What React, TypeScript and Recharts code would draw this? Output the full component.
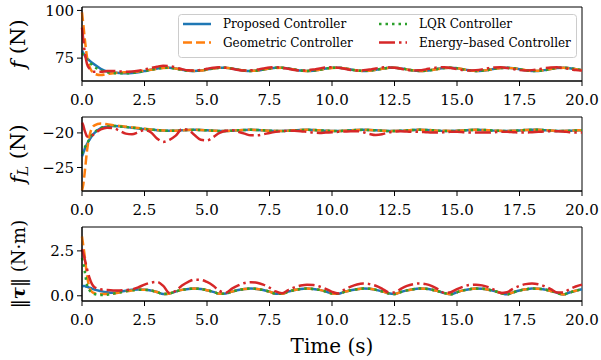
import React from 'react';
import { LineChart, Line, XAxis, YAxis, ReferenceArea, Legend } from 'recharts';

const FONT = '"DejaVu Serif", serif';

// time samples (s): dense at the start, then every 0.25 s
const TIME = [0, 0.05, 0.1, 0.15, 0.2, 0.3, 0.4,
  0.5, 0.75, 1, 1.25, 1.5, 1.75, 2, 2.25, 2.5, 2.75,
  3, 3.25, 3.5, 3.75, 4, 4.25, 4.5, 4.75, 5, 5.25,
  5.5, 5.75, 6, 6.25, 6.5, 6.75, 7, 7.25, 7.5, 7.75,
  8, 8.25, 8.5, 8.75, 9, 9.25, 9.5, 9.75, 10, 10.25,
  10.5, 10.75, 11, 11.25, 11.5, 11.75, 12, 12.25, 12.5, 12.75,
  13, 13.25, 13.5, 13.75, 14, 14.25, 14.5, 14.75, 15, 15.25,
  15.5, 15.75, 16, 16.25, 16.5, 16.75, 17, 17.25, 17.5, 17.75,
  18, 18.25, 18.5, 18.75, 19, 19.25, 19.5, 19.75, 20];

// thrust f (N)
const F_PROPOSED = [79, 77.6, 76.5, 75.6, 74.9, 73.7, 72.6,
  71.6, 69.4, 68.0, 67.5, 67.2, 67.1, 67.2, 67.6, 68.2, 68.9,
  69.5, 69.9, 69.9, 69.5, 68.9, 68.4, 68.3, 68.5, 69.0, 69.6,
  69.9, 69.9, 69.5, 68.9, 68.4, 68.3, 68.5, 69.0, 69.5, 69.9,
  69.9, 69.5, 69.0, 68.5, 68.3, 68.4, 68.9, 69.5, 69.9, 69.9,
  69.6, 69.0, 68.5, 68.3, 68.4, 68.9, 69.4, 69.9, 69.9, 69.6,
  69.1, 68.5, 68.3, 68.4, 68.8, 69.4, 69.8, 69.9, 69.7, 69.1,
  68.6, 68.3, 68.4, 68.8, 69.4, 69.8, 69.9, 69.7, 69.2, 68.6,
  68.3, 68.3, 68.7, 69.3, 69.8, 70.0, 69.7, 69.2, 68.7];
const F_GEOMETRIC = [99, 93, 86.5, 80.5, 75.5, 70.5, 68.0,
  66.8, 66.1, 66.6, 67.1, 67.4, 67.6, 67.8, 68.0, 68.4, 68.9,
  69.4, 69.8, 69.9, 69.5, 68.9, 68.5, 68.3, 68.5, 69.0, 69.5,
  69.9, 69.9, 69.5, 69.0, 68.5, 68.3, 68.5, 69.0, 69.5, 69.8,
  69.9, 69.5, 69.0, 68.5, 68.3, 68.4, 68.9, 69.4, 69.8, 69.9,
  69.6, 69.1, 68.5, 68.3, 68.4, 68.9, 69.4, 69.8, 69.9, 69.6,
  69.1, 68.6, 68.3, 68.4, 68.8, 69.3, 69.8, 69.9, 69.7, 69.2,
  68.6, 68.3, 68.4, 68.8, 69.3, 69.8, 69.9, 69.7, 69.2, 68.7,
  68.3, 68.4, 68.7, 69.3, 69.7, 69.9, 69.7, 69.2, 68.7];
const F_LQR = [77.6, 76.8, 75.9, 75.0, 74.2, 72.8, 71.5,
  70.4, 68.6, 67.6, 67.2, 67.0, 67.0, 67.2, 67.6, 68.2, 68.9,
  69.5, 69.9, 69.9, 69.5, 68.9, 68.4, 68.3, 68.5, 69.0, 69.6,
  69.9, 69.9, 69.5, 68.9, 68.4, 68.3, 68.5, 69.0, 69.5, 69.9,
  69.9, 69.5, 69.0, 68.5, 68.3, 68.4, 68.9, 69.5, 69.9, 69.9,
  69.6, 69.0, 68.5, 68.3, 68.4, 68.9, 69.4, 69.9, 69.9, 69.6,
  69.1, 68.5, 68.3, 68.4, 68.8, 69.4, 69.8, 69.9, 69.7, 69.1,
  68.6, 68.3, 68.4, 68.8, 69.4, 69.8, 69.9, 69.7, 69.2, 68.6,
  68.3, 68.3, 68.7, 69.3, 69.8, 70.0, 69.7, 69.2, 68.7];
const F_ENERGY = [91, 85, 79, 75, 72, 69.5, 68.3,
  67.8, 67.8, 68.2, 68.3, 68.0, 67.9, 68.0, 68.4, 69.0, 69.8,
  70.5, 71.0, 70.8, 70.1, 69.2, 68.6, 68.5, 68.8, 69.4, 70.0,
  70.2, 69.9, 69.4, 68.8, 68.5, 68.6, 69.0, 69.6, 70.1, 70.2,
  69.9, 69.4, 68.8, 68.5, 68.6, 69.0, 69.6, 70.1, 70.2, 69.9,
  69.4, 68.8, 68.5, 68.6, 69.0, 69.6, 70.1, 70.2, 69.9, 69.4,
  68.8, 68.5, 68.6, 69.1, 69.7, 70.1, 70.2, 69.8, 69.3, 68.7,
  68.5, 68.7, 69.1, 69.7, 70.1, 70.2, 69.8, 69.3, 68.7, 68.5,
  68.7, 69.1, 69.7, 70.1, 70.2, 69.8, 69.3, 68.7, 68.5];

// load force f_L (N)
const FL_PROPOSED = [-23.4, -22.9, -22.4, -22.0, -21.6, -21.0, -20.4,
  -20.0, -19.3, -19.1, -19.0, -19.05, -19.15, -19.25, -19.35, -19.45, -19.5,
  -19.6, -19.65, -19.7, -19.68, -19.62, -19.57, -19.56, -19.58, -19.63, -19.68,
  -19.72, -19.72, -19.68, -19.62, -19.57, -19.56, -19.58, -19.63, -19.68, -19.72,
  -19.72, -19.68, -19.63, -19.58, -19.56, -19.57, -19.62, -19.68, -19.72, -19.72,
  -19.69, -19.63, -19.58, -19.56, -19.57, -19.62, -19.67, -19.72, -19.72, -19.69,
  -19.64, -19.58, -19.56, -19.57, -19.61, -19.67, -19.71, -19.72, -19.7, -19.64,
  -19.59, -19.56, -19.57, -19.61, -19.67, -19.71, -19.72, -19.7, -19.65, -19.59,
  -19.56, -19.56, -19.6, -19.66, -19.71, -19.72, -19.7, -19.65, -19.6];
const FL_GEOMETRIC = [-28.3, -27.5, -26.0, -24.3, -22.6, -20.4, -19.3,
  -18.9, -18.65, -18.75, -18.9, -19.0, -19.1, -19.2, -19.3, -19.4, -19.5,
  -19.58, -19.64, -19.69, -19.68, -19.62, -19.57, -19.55, -19.58, -19.63, -19.68,
  -19.71, -19.72, -19.68, -19.62, -19.57, -19.55, -19.58, -19.63, -19.68, -19.71,
  -19.72, -19.68, -19.63, -19.58, -19.55, -19.57, -19.62, -19.67, -19.71, -19.72,
  -19.69, -19.63, -19.58, -19.55, -19.57, -19.62, -19.67, -19.71, -19.72, -19.69,
  -19.64, -19.58, -19.55, -19.57, -19.61, -19.67, -19.7, -19.72, -19.7, -19.64,
  -19.59, -19.55, -19.57, -19.61, -19.67, -19.7, -19.72, -19.7, -19.65, -19.59,
  -19.55, -19.56, -19.6, -19.66, -19.7, -19.72, -19.7, -19.65, -19.6];
const FL_LQR = [-23.0, -22.6, -22.2, -21.8, -21.5, -20.9, -20.3,
  -19.9, -19.3, -19.1, -19.0, -19.05, -19.15, -19.25, -19.35, -19.45, -19.52,
  -19.6, -19.65, -19.7, -19.68, -19.62, -19.57, -19.56, -19.58, -19.63, -19.68,
  -19.72, -19.72, -19.68, -19.62, -19.57, -19.56, -19.58, -19.63, -19.68, -19.72,
  -19.72, -19.68, -19.63, -19.58, -19.56, -19.57, -19.62, -19.68, -19.72, -19.72,
  -19.69, -19.63, -19.58, -19.56, -19.57, -19.62, -19.67, -19.72, -19.72, -19.69,
  -19.64, -19.58, -19.56, -19.57, -19.61, -19.67, -19.71, -19.72, -19.7, -19.64,
  -19.59, -19.56, -19.57, -19.61, -19.67, -19.71, -19.72, -19.7, -19.65, -19.59,
  -19.56, -19.56, -19.6, -19.66, -19.71, -19.72, -19.7, -19.65, -19.6];
const FL_ENERGY = [-18.5, -18.9, -19.6, -20.1, -20.5, -20.6, -20.4,
  -20.1, -19.5, -19.25, -19.3, -19.7, -20.1, -20.2, -19.9, -19.6, -19.9,
  -20.8, -21.3, -21.0, -20.4, -19.45, -19.6, -20.3, -21.0, -21.1, -20.6,
  -20.0, -19.7, -19.6, -19.85, -20.1, -20.35, -20.35, -20.2, -20.0, -19.85,
  -19.75, -19.7, -19.7, -19.75, -19.85, -19.95, -20.0, -19.95, -19.9, -19.85,
  -19.8, -19.75, -19.75, -19.9, -20.15, -20.3, -20.2, -19.95, -19.8, -19.75,
  -19.8, -19.85, -19.85, -19.9, -19.95, -19.95, -19.9, -19.85, -19.85, -19.9,
  -19.95, -19.95, -19.95, -19.95, -19.9, -19.85, -19.85, -19.9, -19.95, -19.95,
  -19.9, -19.85, -19.8, -19.75, -19.75, -19.8, -19.9, -19.95, -19.95];

// torque norm ||tau|| (N·m)
const TAU_PROPOSED = [0.5, 0.55, 0.55, 0.52, 0.5, 0.45, 0.4,
  0.34, 0.26, 0.2, 0.17, 0.22, 0.28, 0.33, 0.35, 0.34, 0.3,
  0.21, 0.10, 0.13, 0.24, 0.33, 0.38, 0.40, 0.38, 0.31, 0.22,
  0.11, 0.13, 0.23, 0.32, 0.38, 0.40, 0.38, 0.32, 0.23, 0.12,
  0.12, 0.23, 0.32, 0.38, 0.40, 0.38, 0.33, 0.24, 0.13, 0.11,
  0.22, 0.31, 0.37, 0.40, 0.39, 0.33, 0.25, 0.14, 0.10, 0.21,
  0.30, 0.37, 0.40, 0.39, 0.34, 0.25, 0.15, 0.09, 0.20, 0.30,
  0.37, 0.40, 0.39, 0.34, 0.26, 0.16, 0.08, 0.19, 0.29, 0.36,
  0.40, 0.39, 0.35, 0.27, 0.17, 0.07, 0.18, 0.28, 0.36];
const TAU_GEOMETRIC = [3.3, 2.8, 2.3, 1.7, 1.15, 0.45, 0.22,
  0.15, 0.1, 0.1, 0.12, 0.18, 0.25, 0.3, 0.33, 0.33, 0.3,
  0.21, 0.10, 0.13, 0.24, 0.33, 0.38, 0.40, 0.38, 0.31, 0.22,
  0.11, 0.13, 0.23, 0.32, 0.38, 0.40, 0.38, 0.32, 0.23, 0.12,
  0.12, 0.23, 0.32, 0.38, 0.40, 0.38, 0.33, 0.24, 0.13, 0.11,
  0.22, 0.31, 0.37, 0.40, 0.39, 0.33, 0.25, 0.14, 0.10, 0.21,
  0.30, 0.37, 0.40, 0.39, 0.34, 0.25, 0.15, 0.09, 0.20, 0.30,
  0.37, 0.40, 0.39, 0.34, 0.26, 0.16, 0.08, 0.19, 0.29, 0.36,
  0.40, 0.39, 0.35, 0.27, 0.17, 0.07, 0.18, 0.28, 0.36];
const TAU_LQR = [2.1, 1.8, 1.45, 1.0, 0.6, 0.3, 0.18,
  0.1, 0.04, 0.06, 0.12, 0.18, 0.25, 0.3, 0.33, 0.33, 0.3,
  0.21, 0.10, 0.13, 0.24, 0.33, 0.38, 0.40, 0.38, 0.31, 0.22,
  0.11, 0.13, 0.23, 0.32, 0.38, 0.40, 0.38, 0.32, 0.23, 0.12,
  0.12, 0.23, 0.32, 0.38, 0.40, 0.38, 0.33, 0.24, 0.13, 0.11,
  0.22, 0.31, 0.37, 0.40, 0.39, 0.33, 0.25, 0.14, 0.10, 0.21,
  0.30, 0.37, 0.40, 0.39, 0.34, 0.25, 0.15, 0.09, 0.20, 0.30,
  0.37, 0.40, 0.39, 0.34, 0.26, 0.16, 0.08, 0.19, 0.29, 0.36,
  0.40, 0.39, 0.35, 0.27, 0.17, 0.07, 0.18, 0.28, 0.36];
const TAU_ENERGY = [2.6, 2.35, 2.1, 1.8, 1.5, 1.0, 0.65,
  0.48, 0.36, 0.32, 0.3, 0.3, 0.32, 0.36, 0.47, 0.62, 0.73,
  0.77, 0.55, 0.15, 0.28, 0.57, 0.78, 0.90, 0.89, 0.77, 0.56,
  0.27, 0.17, 0.40, 0.58, 0.71, 0.76, 0.73, 0.62, 0.45, 0.24,
  0.14, 0.32, 0.47, 0.57, 0.62, 0.60, 0.52, 0.39, 0.22, 0.13,
  0.34, 0.51, 0.63, 0.68, 0.65, 0.56, 0.40, 0.20, 0.18, 0.38,
  0.55, 0.65, 0.69, 0.65, 0.54, 0.36, 0.16, 0.20, 0.37, 0.51,
  0.60, 0.62, 0.58, 0.48, 0.33, 0.16, 0.20, 0.40, 0.55, 0.65,
  0.68, 0.64, 0.53, 0.37, 0.18, 0.18, 0.37, 0.52, 0.62];

const X_TICKS = [0, 2.5, 5, 7.5, 10, 12.5, 15, 17.5, 20];

const SERIES = [
  { key: 'proposed', name: 'Proposed Controller', color: '#1f77b4', dash: undefined },
  { key: 'geometric', name: 'Geometric Controller', color: '#ff7f0e', dash: '9 4' },
  { key: 'lqr', name: 'LQR Controller', color: '#2ca02c', dash: '2.5 4' },
  { key: 'energy', name: 'Energy–based Controller', color: '#d62728', dash: '16 4 2.5 4' },
];

const rows = (a: number[], b: number[], c: number[], d: number[]) =>
  TIME.map((t, i) => ({ t, proposed: a[i], geometric: b[i], lqr: c[i], energy: d[i] }));

const fData = rows(F_PROPOSED, F_GEOMETRIC, F_LQR, F_ENERGY);
const flData = rows(FL_PROPOSED, FL_GEOMETRIC, FL_LQR, FL_ENERGY);
const tauData = rows(TAU_PROPOSED, TAU_GEOMETRIC, TAU_LQR, TAU_ENERGY);

const minus = (v: number) => (v < 0 ? '\u2212' + Math.abs(v) : String(v));

const labelProps = {
  textAnchor: 'middle' as const,
  dominantBaseline: 'central' as const,
  fontFamily: FONT,
  fontSize: 21,
  fill: '#000',
};

const LegendBox = () => (
  <svg width={400} height={45} style={{ display: 'block' }}>
    <rect x={0.5} y={0.5} width={398} height={43} rx={3} fill="#fff" fillOpacity={0.8} stroke="#cccccc" />
    {SERIES.map((s, i) => {
      const x0 = i < 2 ? 5 : 201;
      const y = i % 2 === 0 ? 10 : 28.5;
      return (
        <g key={s.key}>
          <line x1={x0} x2={x0 + 28} y1={y} y2={y} stroke={s.color} strokeWidth={2.5} strokeDasharray={s.dash} />
          <text x={x0 + 40} y={y} dominantBaseline="central" fontFamily={FONT} fontSize={12} fill="#000">
            {s.name}
          </text>
        </g>
      );
    })}
  </svg>
);

interface PanelProps {
  top: number;
  height: number;
  data: any[];
  domain: [number, number];
  yTicks: number[];
  yFmt: (v: number) => string;
  yLabel: () => React.ReactElement;
  xLabel?: () => React.ReactElement;
  legend?: boolean;
}

function Panel({ top, height, data, domain, yTicks, yFmt, yLabel, xLabel, legend }: PanelProps) {
  const tick = { fill: '#000', fontSize: 15, fontFamily: FONT };
  return (
    <div style={{ position: 'absolute', left: 0, top }}>
      <LineChart
        width={601}
        height={height}
        data={data}
        margin={{ top: 7, right: 19, bottom: 0, left: 0 }}
        style={{ overflow: 'visible' }}
      >
        <XAxis
          dataKey="t"
          type="number"
          domain={[0, 20]}
          ticks={X_TICKS}
          tickFormatter={(v: number) => v.toFixed(1)}
          height={height - 81}
          tick={tick}
          tickSize={5}
          tickMargin={8}
          tickLine={{ stroke: '#000' }}
          axisLine={{ stroke: '#000' }}
          label={xLabel}
        />
        <YAxis
          type="number"
          domain={domain}
          allowDataOverflow
          ticks={yTicks}
          tickFormatter={yFmt}
          width={82}
          tick={tick}
          tickSize={5}
          tickMargin={3}
          tickLine={{ stroke: '#000' }}
          axisLine={{ stroke: '#000' }}
          label={yLabel}
        />
        <ReferenceArea x1={0} x2={20} y1={domain[0]} y2={domain[1]} fill="none" stroke="#000" strokeWidth={1} />
        {SERIES.map((s) => (
          <Line
            key={s.key}
            dataKey={s.key}
            name={s.name}
            type="monotone"
            stroke={s.color}
            strokeWidth={2.5}
            strokeDasharray={s.dash}
            dot={false}
            activeDot={false}
            isAnimationActive={false}
          />
        ))}
        {legend && (
          <Legend
            layout="horizontal"
            verticalAlign="middle"
            align="center"
            content={() => <LegendBox />}
            wrapperStyle={{ left: 178, top: 14, width: 400, height: 45 }}
          />
        )}
      </LineChart>
    </div>
  );
}

export default function App() {
  return (
    <div style={{ position: 'absolute', left: 0, top: 0, width: 601, height: 360, background: '#fff' }}>
      <Panel
        top={0}
        height={110}
        data={fData}
        domain={[63, 101.8]}
        yTicks={[75, 100]}
        yFmt={(v) => String(v)}
        legend
        yLabel={() => (
          <text {...labelProps} transform="translate(18,44) rotate(-90)">
            <tspan fontStyle="italic">f</tspan> (N)
          </text>
        )}
      />
      <Panel
        top={110}
        height={110}
        data={flData}
        domain={[-28.4, -17.7]}
        yTicks={[-25, -20]}
        yFmt={minus}
        yLabel={() => (
          <text {...labelProps} transform="translate(18,44) rotate(-90)">
            <tspan fontStyle="italic">f</tspan>
            <tspan fontStyle="italic" fontSize={15} dy={5}>L</tspan>
            <tspan dy={-5}> (N)</tspan>
          </text>
        )}
      />
      <Panel
        top={220}
        height={140}
        data={tauData}
        domain={[-0.29, 3.83]}
        yTicks={[0, 2.5]}
        yFmt={(v) => v.toFixed(1)}
        yLabel={() => (
          <text {...labelProps} fontSize={18} transform="translate(18,44) rotate(-90)">
            ‖<tspan fontWeight="bold" fontStyle="italic">τ</tspan>‖ (N·m)
          </text>
        )}
        xLabel={() => (
          <text x={332} y={126} textAnchor="middle" dominantBaseline="central" fontFamily={FONT} fontSize={20} fill="#000">
            Time (s)
          </text>
        )}
      />
    </div>
  );
}
